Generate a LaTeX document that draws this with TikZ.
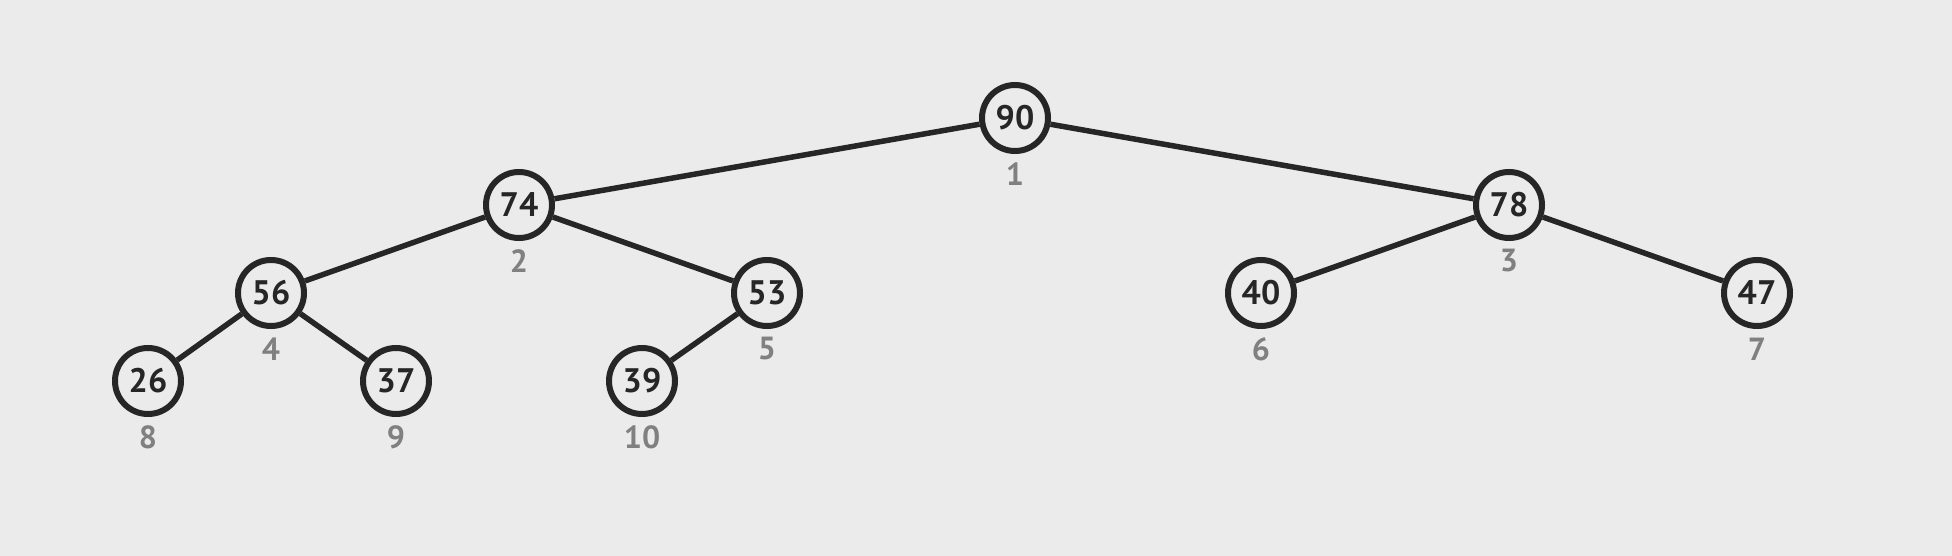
\documentclass[tikz,border=0pt]{standalone}
\usepackage{fontspec}
\setmainfont{PT Sans}
\begin{document}
\begin{tikzpicture}[x=1pt,y=-1pt,
  hnode/.style={circle,draw=black!85,line width=6pt,fill=none,minimum size=66pt,inner sep=0pt,font=\fontsize{34}{34}\selectfont\bfseries,text=black!85},
  idx/.style={font=\fontsize{32}{32}\selectfont\bfseries,text=black!50},
  edge/.style={draw=black!85,line width=5.5pt}]
\fill[color={rgb,255:red,235;green,235;blue,235}] (0,0) rectangle (1952,556);
\useasboundingbox (0,0) rectangle (1952,556);
\node[hnode] (n1) at (1015,118) {90};
\node[hnode] (n2) at (519,205) {74};
\node[hnode] (n3) at (1509,205) {78};
\node[hnode] (n4) at (271,293) {56};
\node[hnode] (n5) at (767,293) {53};
\node[hnode] (n6) at (1261,293) {40};
\node[hnode] (n7) at (1757,293) {47};
\node[hnode] (n8) at (148,381) {26};
\node[hnode] (n9) at (396,381) {37};
\node[hnode] (n10) at (642,381) {39};
\foreach \i in {1,...,10} {\node[idx] (l\i) at ([yshift=-56pt]n\i.center) {\i};}
\draw[edge] (n1) -- (n2);
\draw[edge] (n1) -- (n3);
\draw[edge] (n2) -- (n4);
\draw[edge] (n2) -- (n5);
\draw[edge] (n3) -- (n6);
\draw[edge] (n3) -- (n7);
\draw[edge] (n4) -- (n8);
\draw[edge] (n4) -- (n9);
\draw[edge] (n5) -- (n10);
\end{tikzpicture}
\end{document}
